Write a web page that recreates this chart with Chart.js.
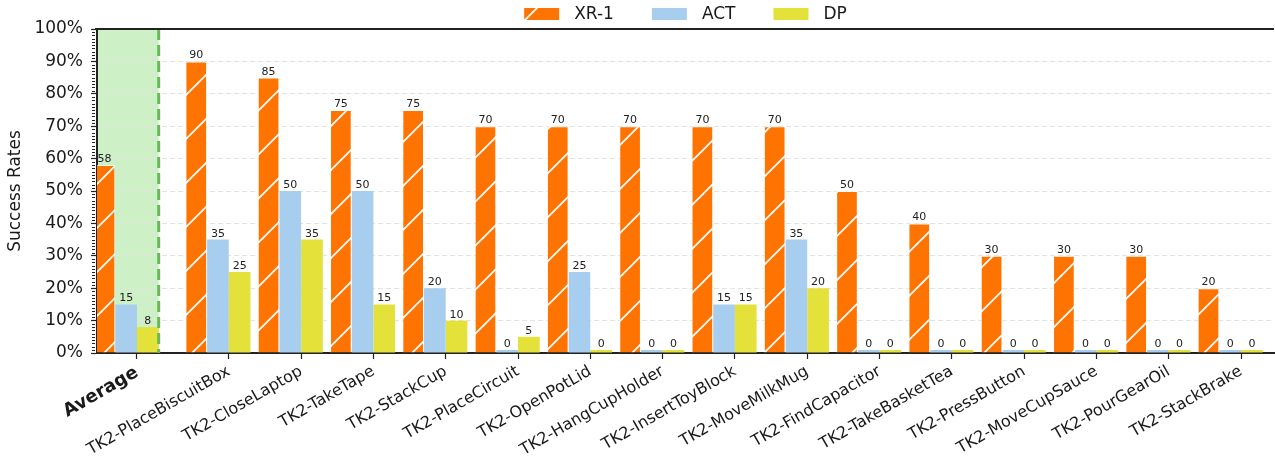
<!DOCTYPE html>
<html>
<head>
<meta charset="utf-8">
<title>Success Rates</title>
<script src="https://cdn.jsdelivr.net/npm/chart.js@4/dist/chart.umd.min.js"></script>
<style>
  html, body { margin: 0; padding: 0; background: #ffffff; }
  #wrap { width: 1275px; height: 459px; }
</style>
</head>
<body>
<div id="wrap"><canvas id="chart" width="1275" height="459"></canvas></div>
<script>
// ---- data ----
const categories = [
  'Average', 'TK2-PlaceBiscuitBox', 'TK2-CloseLaptop', 'TK2-TakeTape', 'TK2-StackCup',
  'TK2-PlaceCircuit', 'TK2-OpenPotLid', 'TK2-HangCupHolder', 'TK2-InsertToyBlock',
  'TK2-MoveMilkMug', 'TK2-FindCapacitor', 'TK2-TakeBasketTea', 'TK2-PressButton',
  'TK2-MoveCupSauce', 'TK2-PourGearOil', 'TK2-StackBrake'
];
const xr1Values = [58, 90, 85, 75, 75, 70, 70, 70, 70, 70, 50, 40, 30, 30, 30, 20];
const actValues = [15, 35, 50, 50, 20, 0, 25, 0, 15, 35, 0, 0, 0, 0, 0, 0];
const dpValues  = [8, 25, 35, 15, 10, 5, 0, 0, 15, 20, 0, 0, 0, 0, 0, 0];
const seriesNames = ['XR-1', 'ACT', 'DP'];
const yTickValues = [0, 10, 20, 30, 40, 50, 60, 70, 80, 90, 100];

// ---- styling / layout ----
const FONT = "'DejaVu Sans', 'Liberation Sans', sans-serif";
const TEXT = '#1a1a1a';
const ORANGE = '#FF7300';
const BLUE = '#A8CEEF';
const YELLOW = '#E4E23A';
const SHADE = '#CEF0C6';
const SHADE_LINE = '#6BB856';

const AVG_GAP = 0.27;          // extra room between the Average group and the tasks
const BAR_W = 0.3;             // bar width in x units (0.9 of a unit / 3 bars)
const groupCenter = i => (i === 0 ? 0 : i + AVG_GAP);
const centers = categories.map((_, i) => groupCenter(i));
const tickPos = centers.map(c => c + BAR_W / 2);
const X_MIN = tickPos[0] - 0.553;
const X_MAX = tickPos[tickPos.length - 1] + 0.456;

// white "/" hatch over orange
function makeHatch(color) {
  const s = 44;
  const c = document.createElement('canvas');
  c.width = s; c.height = s;
  const g = c.getContext('2d');
  g.fillStyle = color;
  g.fillRect(0, 0, s, s);
  g.strokeStyle = '#ffffff';
  g.lineWidth = 1.8;
  for (const k of [-27, 17, 61, 105]) {
    g.beginPath();
    g.moveTo(-10, k + 10);
    g.lineTo(s + 10, k - s - 10);
    g.stroke();
  }
  return g.createPattern(c, 'repeat');
}
const hatch = makeHatch(ORANGE);

const fills = [hatch, BLUE, YELLOW];
const datasets = [xr1Values, actValues, dpValues].map((vals, k) => ({
  label: seriesNames[k],
  data: vals.map((v, i) => ({ x: centers[i], y: v })),
  backgroundColor: fills[k],
  borderColor: k === 0 ? 'rgba(255,255,255,0.7)' : 'rgba(0,0,0,0)',
  borderWidth: k === 0 ? 1 : 0,
  borderSkipped: 'bottom',
  minBarLength: 3,
  categoryPercentage: 0.9,
  barPercentage: 1.0
}));

// shaded band behind the Average group
const averageBand = {
  id: 'averageBand',
  beforeDraw(chart) {
    const { ctx, chartArea: a, scales: { x } } = chart;
    const right = x.getPixelForValue(centers[0] + 1.5 * BAR_W);
    ctx.save();
    ctx.fillStyle = SHADE;
    ctx.fillRect(a.left, a.top, right - a.left, a.bottom - a.top);
    ctx.restore();
  },
  afterDatasetsDraw(chart) {
    const { ctx, chartArea: a, scales: { x } } = chart;
    const right = x.getPixelForValue(centers[0] + 1.5 * BAR_W);
    ctx.save();
    ctx.strokeStyle = SHADE_LINE;
    ctx.lineWidth = 3;
    ctx.setLineDash([11, 5]);
    ctx.beginPath();
    ctx.moveTo(right, a.top);
    ctx.lineTo(right, a.bottom);
    ctx.stroke();
    ctx.restore();
  }
};

// numbers above each bar
const valueLabels = {
  id: 'valueLabels',
  afterDatasetsDraw(chart) {
    const { ctx } = chart;
    ctx.save();
    ctx.font = `11px ${FONT}`;
    ctx.fillStyle = '#222222';
    ctx.textAlign = 'center';
    ctx.textBaseline = 'alphabetic';
    chart.data.datasets.forEach((ds, di) => {
      const meta = chart.getDatasetMeta(di);
      meta.data.forEach((bar, i) => {
        ctx.fillText(String(ds.data[i].y), bar.x, bar.y - 3);
      });
    });
    ctx.restore();
  }
};

// top spine, minor y ticks and the legend row
const frameAndLegend = {
  id: 'frameAndLegend',
  afterDraw(chart) {
    const { ctx, chartArea: a, scales: { y } } = chart;
    ctx.save();
    ctx.strokeStyle = '#222222';
    ctx.lineWidth = 2;
    ctx.beginPath();
    ctx.moveTo(a.left - 2, a.top);
    ctx.lineTo(a.right, a.top);
    ctx.stroke();

    ctx.lineWidth = 1;
    for (let v = 1; v < 100; v++) {
      if (v % 10 === 0) continue;
      const py = Math.round(y.getPixelForValue(v)) + 0.5;
      ctx.beginPath();
      ctx.moveTo(a.left - 5, py);
      ctx.lineTo(a.left - 2, py);
      ctx.stroke();
    }

    // legend
    ctx.font = `17px ${FONT}`;
    ctx.textBaseline = 'middle';
    ctx.textAlign = 'left';
    const boxW = 35, boxH = 12, gapText = 15, gapItem = 38;
    const widths = seriesNames.map(n => ctx.measureText(n).width);
    const total = widths.reduce((s, w) => s + boxW + gapText + w, 0) + gapItem * (seriesNames.length - 1);
    let lx = (a.left + a.right) / 2 - total / 2;
    const boxTop = 8;
    seriesNames.forEach((name, k) => {
      ctx.fillStyle = fills[k];
      ctx.fillRect(lx, boxTop, boxW, boxH);
      ctx.fillStyle = TEXT;
      ctx.fillText(name, lx + boxW + gapText, boxTop + boxH / 2 + 1);
      lx += boxW + gapText + widths[k] + gapItem;
    });
    ctx.restore();
  }
};

new Chart(document.getElementById('chart'), {
  type: 'bar',
  data: { datasets },
  plugins: [averageBand, valueLabels, frameAndLegend],
  options: {
    responsive: false,
    devicePixelRatio: 1,
    animation: false,
    layout: { padding: { top: 29, right: 1, left: 0, bottom: 0 } },
    plugins: { legend: { display: false }, tooltip: { enabled: false } },
    scales: {
      x: {
        type: 'linear',
        min: X_MIN,
        max: X_MAX,
        offset: false,
        afterBuildTicks: axis => { axis.ticks = tickPos.map(v => ({ value: v })); },
        afterFit: scale => { scale.height = 106; },
        grid: {
          offset: false, drawOnChartArea: false, drawTicks: true,
          tickLength: 6, tickColor: '#222222', tickWidth: 1.2
        },
        border: { display: true, color: '#222222', width: 2 },
        ticks: {
          autoSkip: false,
          minRotation: 30,
          maxRotation: 30,
          padding: 3,
          color: TEXT,
          font: ctx => (ctx.index === 0
            ? { family: FONT, size: 18, weight: 'bold' }
            : { family: FONT, size: 16 }),
          callback: (v, i) => categories[i]
        }
      },
      y: {
        min: 0,
        max: 100,
        afterBuildTicks: axis => { axis.ticks = yTickValues.map(v => ({ value: v })); },
        afterFit: scale => { scale.width = 97; },
        grid: {
          color: '#e3e3e3', lineWidth: 1,
          tickColor: '#222222', tickLength: 6, tickWidth: 1.2, tickBorderDash: []
        },
        border: { display: true, color: '#222222', width: 2, dash: [5, 3] },
        ticks: {
          padding: 8,
          color: TEXT,
          font: { family: FONT, size: 17 },
          callback: v => v + '%'
        },
        title: {
          display: true,
          text: 'Success Rates',
          color: TEXT,
          font: { family: FONT, size: 17 },
          padding: { top: 5, bottom: 0 }
        }
      }
    }
  }
});
</script>
</body>
</html>
